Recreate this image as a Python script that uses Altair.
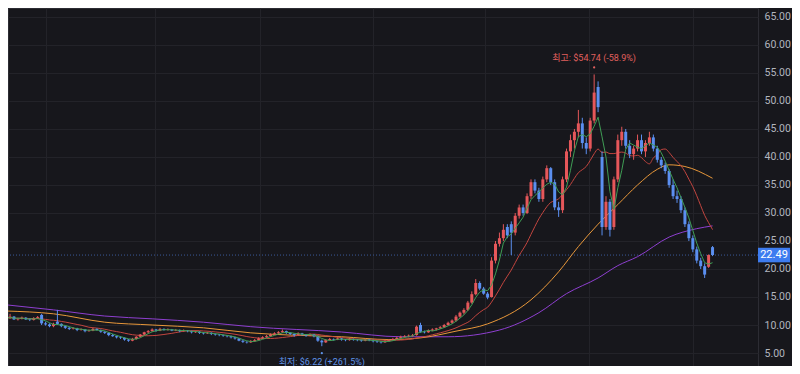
import altair as alt
import pandas as pd

# ---- data (daily OHLC, index = candle number) ----
opens = [
    11.0, 11.2, 11.5, 11.0, 11.1, 11.3, 11.0, 10.9, 11.2, 11.8,
    10.3, 10.1, 9.8, 10.6, 10.2, 9.8, 9.5, 9.3, 9.4, 9.1,
    9.2, 8.9, 9.0, 9.3, 9.1, 8.8, 8.6, 8.2, 8.0, 7.8,
    7.7, 7.4, 7.2, 7.5, 7.9, 8.3, 8.7, 8.9, 9.2, 9.0,
    9.3, 9.1, 9.2, 9.0, 9.1, 8.9, 9.0, 8.9, 8.7, 8.8,
    8.6, 8.5, 8.6, 8.4, 8.3, 8.2, 8.1, 8.0, 7.8, 7.6,
    7.2, 7.0, 6.9, 7.1, 7.3, 7.6, 7.8, 8.0, 8.3, 8.5,
    8.7, 8.9, 8.6, 8.4, 8.2, 8.5, 8.3, 8.1, 8.3, 8.0,
    7.2, 6.9, 7.3, 7.5, 7.4, 7.6, 7.4, 7.3, 7.5, 7.4,
    7.3, 7.2, 7.4, 7.3, 7.1, 7.0, 6.9, 7.1, 7.3, 7.5,
    7.7, 7.9, 8.0, 8.1, 8.2, 10.0, 8.8, 8.7, 9.0, 9.2,
    9.4, 9.6, 10.0, 10.4, 10.8, 11.5, 12.2, 12.7, 14.0, 15.5,
    17.5, 16.5, 15.6, 15.0, 21.5, 24.5, 25.5, 27.5, 28.0, 26.5,
    29.5, 31.0, 30.0, 33.0, 35.5, 34.0, 32.5, 36.0, 38.0, 35.5,
    31.0, 30.5, 36.0, 41.0, 43.0, 44.5, 46.0, 42.5, 41.5, 46.5,
    52.5, 40.0, 27.5, 32.0, 27.5, 36.0, 43.0, 44.5, 42.0, 40.5,
    41.5, 43.0, 41.0, 42.5, 43.5, 41.5, 39.5, 38.5, 37.5, 35.0,
    33.0, 32.5, 30.5, 28.0, 25.5, 23.5, 21.5, 20.5, 20.4, 23.9,
]
closes = [
    11.2, 11.5, 11.0, 11.1, 11.3, 11.0, 10.9, 11.2, 11.4, 10.3,
    10.1, 9.8, 10.2, 10.2, 9.8, 9.5, 9.3, 9.4, 9.1, 9.2,
    8.9, 9.0, 9.3, 9.1, 8.8, 8.6, 8.2, 8.0, 7.8, 7.7,
    7.4, 7.2, 7.5, 7.9, 8.3, 8.7, 8.9, 9.2, 9.0, 9.3,
    9.1, 9.2, 9.0, 9.1, 8.9, 9.0, 8.9, 8.7, 8.8, 8.6,
    8.5, 8.6, 8.4, 8.3, 8.2, 8.1, 8.0, 7.8, 7.6, 7.2,
    7.0, 6.9, 7.1, 7.3, 7.6, 7.8, 8.0, 8.3, 8.5, 8.7,
    8.9, 8.6, 8.4, 8.2, 8.5, 8.3, 8.1, 8.3, 8.0, 7.2,
    6.9, 7.3, 7.5, 7.4, 7.6, 7.4, 7.3, 7.5, 7.4, 7.3,
    7.2, 7.4, 7.3, 7.1, 7.0, 6.9, 7.1, 7.3, 7.5, 7.7,
    7.9, 8.0, 8.1, 8.2, 9.7, 8.8, 8.7, 9.0, 9.2, 9.4,
    9.6, 10.0, 10.4, 10.8, 11.5, 12.2, 12.7, 14.0, 15.5, 17.5,
    16.5, 15.6, 14.9, 21.5, 24.5, 25.5, 27.0, 26.0, 26.5, 29.5,
    31.0, 30.0, 33.0, 35.5, 34.0, 32.5, 36.0, 38.0, 35.5, 31.0,
    30.5, 36.0, 41.0, 43.0, 44.5, 46.0, 42.5, 41.5, 46.5, 51.5,
    48.9, 27.5, 32.0, 27.0, 36.0, 43.0, 44.5, 42.0, 40.5, 41.5,
    43.0, 41.0, 42.5, 43.5, 41.5, 39.5, 38.5, 37.5, 35.0, 33.0,
    32.5, 30.5, 28.0, 25.5, 23.5, 21.5, 20.5, 19.0, 22.5, 22.49,
]
highs = [
    11.5, 12.0, 11.6, 11.3, 11.5, 11.4, 11.2, 11.4, 11.6, 12.0,
    10.6, 10.3, 10.4, 12.7, 10.3, 9.9, 9.7, 9.6, 9.5, 9.4,
    9.3, 9.2, 9.5, 9.4, 9.2, 8.9, 8.7, 8.4, 8.1, 8.0,
    7.8, 7.5, 7.7, 8.0, 8.4, 8.8, 9.1, 9.4, 9.3, 9.5,
    9.4, 9.4, 9.3, 9.3, 9.2, 9.2, 9.1, 9.0, 9.0, 8.9,
    8.7, 8.8, 8.7, 8.5, 8.4, 8.3, 8.2, 8.1, 7.9, 7.7,
    7.3, 7.1, 7.3, 7.5, 7.8, 8.0, 8.2, 8.5, 8.7, 8.9,
    9.2, 9.0, 8.7, 8.5, 8.7, 8.6, 8.4, 8.5, 8.4, 8.1,
    7.4, 7.5, 7.7, 7.6, 7.8, 7.7, 7.5, 7.7, 7.6, 7.5,
    7.4, 7.6, 7.5, 7.4, 7.2, 7.1, 7.3, 7.5, 7.7, 7.9,
    8.1, 8.2, 8.3, 8.4, 9.9, 10.4, 9.0, 9.2, 9.4, 9.5,
    9.8, 10.2, 10.6, 11.0, 11.8, 12.4, 13.0, 14.3, 16.0, 18.2,
    17.8, 16.8, 15.9, 22.1, 25.0, 26.5, 28.0, 28.0, 28.5, 30.0,
    31.5, 31.5, 33.5, 36.0, 36.0, 34.5, 36.5, 38.5, 38.2, 36.0,
    32.0, 36.5, 41.5, 44.0, 45.0, 48.4, 47.0, 43.5, 47.0, 54.74,
    53.5, 41.0, 33.0, 32.5, 36.5, 44.0, 45.4, 45.0, 43.0, 42.0,
    44.0, 44.0, 43.0, 44.5, 44.0, 42.0, 40.0, 39.0, 37.8, 36.0,
    34.0, 33.0, 31.0, 28.5, 26.0, 24.0, 22.0, 21.0, 22.6, 24.1,
]
lows = [
    10.8, 11.1, 10.9, 10.8, 11.0, 10.9, 10.7, 10.8, 11.1, 10.0,
    9.9, 9.6, 9.6, 10.0, 9.6, 9.3, 9.1, 9.2, 8.9, 9.0,
    8.7, 8.8, 8.9, 9.0, 8.6, 8.4, 8.0, 7.9, 7.6, 7.5,
    7.2, 7.0, 7.1, 7.4, 7.8, 8.2, 8.5, 8.8, 8.8, 8.9,
    9.0, 9.0, 8.9, 8.9, 8.7, 8.8, 8.7, 8.5, 8.6, 8.4,
    8.3, 8.4, 8.2, 8.1, 8.0, 7.9, 7.8, 7.6, 7.4, 7.1,
    6.8, 6.7, 6.8, 7.0, 7.2, 7.5, 7.7, 7.9, 8.2, 8.4,
    8.6, 8.4, 8.2, 7.9, 8.1, 8.1, 7.9, 8.0, 7.8, 7.0,
    6.22, 6.8, 7.2, 7.2, 7.3, 7.2, 7.1, 7.2, 7.2, 7.1,
    7.0, 7.1, 7.1, 6.9, 6.8, 6.7, 6.8, 7.0, 7.2, 7.4,
    7.6, 7.8, 7.8, 7.9, 8.1, 8.6, 8.5, 8.6, 8.9, 9.0,
    9.3, 9.5, 9.9, 10.2, 10.6, 11.3, 11.9, 12.5, 13.8, 15.3,
    16.2, 15.4, 14.6, 14.9, 21.0, 24.0, 25.0, 25.5, 22.5, 26.0,
    29.0, 29.5, 29.8, 32.5, 33.5, 32.0, 32.0, 35.5, 35.0, 30.5,
    29.3, 30.0, 35.5, 40.0, 41.5, 43.5, 41.5, 40.5, 41.0, 46.0,
    48.0, 26.0, 27.0, 25.8, 27.0, 35.5, 42.0, 41.5, 39.8, 39.5,
    41.0, 40.5, 40.0, 42.0, 41.0, 39.0, 38.0, 37.0, 34.5, 32.5,
    31.8, 30.0, 27.5, 25.0, 23.0, 21.0, 20.0, 18.4, 20.2, 22.3,
]
assert len(opens) == len(closes) == len(highs) == len(lows) == 180

# longer moving averages (candle index, value)
ma_orange_idx = [0, 12, 25, 37, 50, 62, 72, 85, 97, 105, 114, 122, 133, 140, 145, 150, 155, 160, 165, 168, 172, 179]
ma_orange_val = [12.5, 12.0, 10.5, 10.0, 9.5, 8.6, 8.2, 7.9, 7.4, 7.7, 8.9, 10.2, 14.5, 19.5, 24.0, 28.0, 31.5, 35.0, 37.8, 38.6, 38.3, 36.2]
ma_purple_idx = [0, 12, 25, 37, 50, 62, 85, 100, 112, 125, 135, 142, 150, 155, 160, 168, 175, 179]
ma_purple_val = [13.6, 12.7, 11.6, 11.1, 10.5, 9.7, 8.75, 7.9, 7.9, 9.1, 12.2, 15.6, 18.4, 20.6, 22.2, 25.7, 27.2, 27.7]

price_ticks = [5, 10, 15, 20, 25, 30, 35, 40, 45, 50, 55, 60, 65]
period_breaks = [10, 37.75, 64.25, 93, 121.25, 147.75, 174]
high_label = "최고: $54.74 (-58.9%)"
low_label = "최저: $6.22 (+261.5%)"

# ---- styling ----
BG = "#17171c"
GRID = "#232329"
UP = "#e5575a"
DOWN = "#5b8ff0"
FONT = "Roboto"
KFONT = "Roboto, 'Noto Sans CJK KR'"

df = pd.DataFrame({"i": list(range(len(opens))), "open": opens, "high": highs,
                   "low": lows, "close": closes})
df["dir"] = ["up" if c >= o else "down" for o, c in zip(opens, closes)]

xsc = alt.Scale(domain=[1.75, 189.25], nice=False, zero=False)
ysc = alt.Scale(domain=[2.68, 66.6], nice=False, zero=False)
xaxis = alt.Axis(values=period_breaks, labels=False, ticks=False, domain=False,
                 grid=True, gridColor=GRID, title=None)
yaxis = alt.Axis(orient="right", values=price_ticks, format=".2f", grid=True,
                 gridColor=GRID, domain=False, ticks=False, labelPadding=6,
                 labelColor="#b2b5be", labelFontSize=10.5, labelFont=FONT, title=None)
X = alt.X("i:Q", scale=xsc, axis=xaxis)
color = alt.Color("dir:N", scale=alt.Scale(domain=["up", "down"], range=[UP, DOWN]), legend=None)

base = alt.Chart(df)
wicks = base.mark_rule(strokeWidth=1, clip=True).encode(
    x=X, y=alt.Y("low:Q", scale=ysc, axis=yaxis), y2="high:Q", color=color)
bodies = base.mark_bar(size=3, clip=True).encode(
    x=X, y=alt.Y("open:Q", scale=ysc, axis=yaxis), y2="close:Q", color=color)

ma_green = base.transform_window(
    ma="mean(close)", frame=[-3, 0], sort=[alt.SortField("i")]
).mark_line(color="#3f9d55", strokeWidth=1, clip=True).encode(
    x=X, y=alt.Y("ma:Q", scale=ysc, axis=yaxis))
ma_red = base.transform_window(
    ma="mean(close)", frame=[-12, 0], sort=[alt.SortField("i")]
).mark_line(color="#c2453f", strokeWidth=1, clip=True, interpolate="monotone").encode(
    x=X, y=alt.Y("ma:Q", scale=ysc, axis=yaxis))

orange_df = pd.DataFrame({"i": ma_orange_idx, "ma": ma_orange_val})
purple_df = pd.DataFrame({"i": ma_purple_idx, "ma": ma_purple_val})
ma_orange = alt.Chart(orange_df).mark_line(color="#e8973a", strokeWidth=1, clip=True,
                                           interpolate="monotone").encode(
    x=X, y=alt.Y("ma:Q", scale=ysc, axis=yaxis))
ma_purple = alt.Chart(purple_df).mark_line(color="#8e3fd0", strokeWidth=1, clip=True,
                                           interpolate="monotone").encode(
    x=X, y=alt.Y("ma:Q", scale=ysc, axis=yaxis))

last_df = pd.DataFrame({"v": [closes[-1]]})
price_line = alt.Chart(last_df).mark_rule(color="#3b5a9a", strokeDash=[1, 2], strokeWidth=1).encode(
    y=alt.Y("v:Q", scale=ysc, axis=yaxis))
price_box = alt.Chart(last_df).transform_calculate(
    top="datum.v + 1.3", bot="datum.v - 1.3"
).mark_rect(color="#3d7cf0", clip=False).encode(
    x=alt.value(750), x2=alt.value(782),
    y=alt.Y("top:Q", scale=ysc, axis=yaxis), y2="bot:Q")
price_txt = alt.Chart(last_df).mark_text(color="white", fontSize=11, font=FONT,
                                         align="center", baseline="middle").encode(
    x=alt.value(766), y=alt.Y("v:Q", scale=ysc, axis=yaxis), text=alt.Text("v:Q", format=".2f"))

hi_i = highs.index(max(highs))
lo_i = lows.index(min(lows))
hi_df = pd.DataFrame({"i": [hi_i], "v": [highs[hi_i]], "t": [high_label]})
lo_df = pd.DataFrame({"i": [lo_i], "v": [lows[lo_i]], "t": [low_label]})
hi_txt = alt.Chart(hi_df).mark_text(dy=-16, fontSize=9, font=KFONT, color="#e0605e",
                                    baseline="middle").encode(
    x=X, y=alt.Y("v:Q", scale=ysc, axis=yaxis), text="t:N")
hi_dot = alt.Chart(hi_df).transform_calculate(d="datum.v + 1.25").mark_circle(
    size=5, color="#e0605e", opacity=1).encode(
    x=X, y=alt.Y("d:Q", scale=ysc, axis=yaxis))
lo_txt = alt.Chart(lo_df).mark_text(dy=16, fontSize=9, font=KFONT, color="#5f93e8",
                                    baseline="middle").encode(
    x=X, y=alt.Y("v:Q", scale=ysc, axis=yaxis), text="t:N")
lo_dot = alt.Chart(lo_df).transform_calculate(d="datum.v - 1.25").mark_circle(
    size=5, color="#5f93e8", opacity=1).encode(
    x=X, y=alt.Y("d:Q", scale=ysc, axis=yaxis))

chart = alt.layer(
    price_line, ma_purple, ma_orange, ma_red, wicks, bodies, ma_green,
    hi_txt, hi_dot, lo_txt, lo_dot, price_box, price_txt
).properties(
    width=750, height=358, background=BG,
    padding={"left": 0, "top": 0, "right": 34, "bottom": 0},
    autosize=alt.AutoSizeParams(type="none"),
).configure_view(stroke="#2c2c33", strokeWidth=1)

chart.save("out.html", embed_options={"renderer": "svg", "actions": False})
